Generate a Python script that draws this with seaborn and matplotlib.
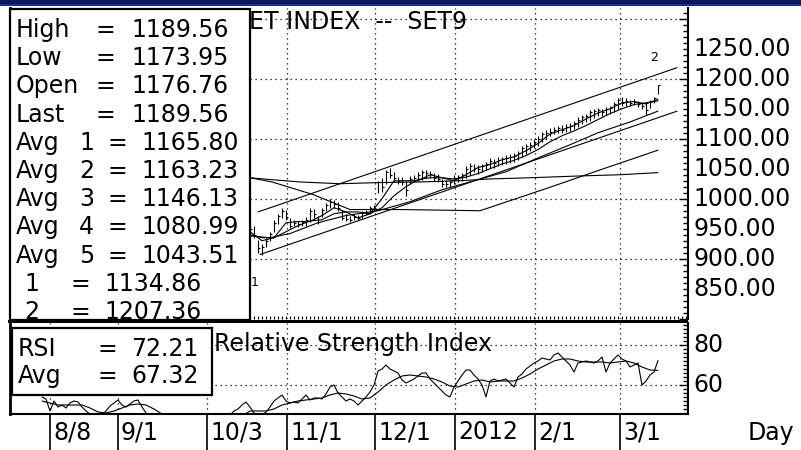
import matplotlib
matplotlib.use("Agg")
import matplotlib.pyplot as plt
import seaborn as sns
from matplotlib.patches import Rectangle
from matplotlib.ticker import MultipleLocator, FixedLocator, NullFormatter

# ---------------- data ----------------
bar_days = list(range(60, 163))
bar_high = [960, 955, 932, 925, 935, 945, 965, 975, 985, 982,
            968, 965, 963, 965, 970, 985, 983, 972, 985, 993,
            1000, 998, 995, 982, 975, 972, 975, 973, 980, 982,
            988, 990, 1030, 1035, 1048, 1052, 1045, 1037, 1037, 1030,
            1038, 1040, 1045, 1048, 1048, 1047, 1043, 1042, 1033, 1032,
            1032, 1040, 1040, 1043, 1055, 1060, 1058, 1056, 1058, 1062,
            1068, 1066, 1070, 1070, 1073, 1075, 1076, 1080, 1088, 1092,
            1095, 1100, 1105, 1112, 1115, 1118, 1120, 1122, 1123, 1125,
            1126, 1130, 1136, 1140, 1142, 1148, 1150, 1152, 1150, 1153,
            1155, 1162, 1168, 1170, 1168, 1165, 1166, 1163, 1160, 1162,
            1165, 1170, 1189.56]
bar_low = [940, 935, 910, 906, 920, 930, 945, 958, 968, 965,
           952, 955, 953, 955, 955, 962, 968, 958, 970, 980,
           985, 985, 980, 965, 963, 962, 965, 965, 968, 973,
           975, 980, 1010, 1012, 1025, 1035, 1028, 1025, 1023, 1005,
           1025, 1028, 1030, 1032, 1035, 1035, 1030, 1028, 1020, 1020,
           1020, 1025, 1028, 1030, 1035, 1040, 1045, 1042, 1045, 1048,
           1052, 1052, 1055, 1057, 1058, 1060, 1062, 1065, 1070, 1075,
           1080, 1085, 1088, 1095, 1100, 1105, 1108, 1110, 1110, 1112,
           1113, 1116, 1120, 1125, 1128, 1130, 1135, 1138, 1138, 1140,
           1142, 1145, 1150, 1155, 1155, 1155, 1156, 1153, 1150, 1140,
           1152, 1160, 1173.95]
bar_close = [950, 940, 918, 920, 930, 942, 960, 972, 980, 970,
             955, 960, 958, 962, 965, 980, 975, 962, 982, 990,
             995, 992, 985, 968, 966, 965, 970, 968, 976, 978,
             985, 985, 1028, 1020, 1045, 1040, 1035, 1030, 1028, 1015,
             1033, 1035, 1040, 1045, 1043, 1042, 1035, 1033, 1025, 1025,
             1028, 1035, 1037, 1040, 1050, 1055, 1052, 1050, 1054, 1058,
             1063, 1060, 1065, 1066, 1068, 1070, 1072, 1076, 1085, 1088,
             1090, 1095, 1100, 1108, 1110, 1112, 1115, 1118, 1115, 1120,
             1122, 1126, 1132, 1136, 1138, 1144, 1146, 1148, 1145, 1150,
             1152, 1158, 1165, 1160, 1163, 1160, 1162, 1158, 1155, 1148,
             1162, 1168, 1189.56]

avg1_days = [58, 60, 63, 66, 69, 72, 75, 78, 81, 84, 87, 90, 93, 96, 99, 102, 105,
             108, 111, 114, 117, 120, 123, 126, 129, 132, 135, 138, 141, 144,
             147, 150, 153, 156, 159, 162]
avg1_vals = [950, 945, 930, 935, 960, 962, 962, 972, 985, 978, 968, 975, 1000, 1030,
             1030, 1030, 1040, 1035, 1030, 1040, 1052, 1057, 1065, 1070, 1080,
             1092, 1108, 1115, 1122, 1133, 1143, 1150, 1160, 1162, 1158, 1165.80]
avg2_days = [58, 60, 63, 66, 69, 72, 75, 78, 81, 84, 87, 90, 93, 96, 99, 102, 105,
             108, 111, 114, 117, 120, 123, 126, 129, 132, 135, 138, 141, 144,
             147, 150, 153, 156, 159, 162]
avg2_vals = [945, 940, 935, 935, 945, 955, 963, 965, 975, 978, 978, 975, 985, 1005,
             1020, 1032, 1035, 1035, 1033, 1036, 1042, 1050, 1058, 1064, 1072,
             1082, 1095, 1105, 1113, 1122, 1132, 1142, 1150, 1157, 1160, 1163.23]
avg3_days = [58, 60, 65, 70, 77, 84, 92, 100, 108, 116, 124, 132, 140, 147, 155, 162]
avg3_vals = [940, 938, 935, 942, 960, 972, 980, 995, 1015, 1030, 1045, 1068, 1090,
             1110, 1128, 1146.13]
avg4_days = [58, 60, 65.5, 75.75, 85, 97.5, 117.5, 134.5, 147.5, 162]
avg4_vals = [1036, 1035, 1028, 1007, 982, 982, 980, 1018, 1048, 1080.99]
avg5_days = [58, 60, 65, 72.5, 82.5, 92.5, 102.5, 112.5, 120, 130, 142.5, 152.5, 162]
avg5_vals = [1036, 1035, 1032, 1028, 1025, 1027, 1028, 1030, 1033, 1035, 1038, 1040,
             1043.51]

chan1_days = [62.5, 166.75]
chan1_vals = [907, 1146]
chan2_days = [62, 166.75]
chan2_vals = [978, 1218.5]

rsi_days = list(range(8, 163))
rsi_vals = [54, 53, 47, 52, 49, 50, 48.5, 51, 52, 51.5,
            49, 47, 45.5, 44, 43, 45, 47, 49.5, 51, 52.5,
            50, 49, 50.5, 52, 52.5, 49, 46, 44, 42, 40,
            38, 36, 35, 37, 39, 40, 38, 36, 34, 33,
            35, 38, 40, 41, 43, 44,
            44, 45, 47, 48, 50, 51.5, 49, 46, 44, 45,
            46.5, 49, 52, 53.5, 55, 52, 51, 51.5, 51, 53,
            55, 52.5, 53.5, 53.5, 53, 55.5, 59, 60, 56, 54,
            52, 53, 52, 50, 52, 54, 56.5, 60, 67, 68,
            70, 68, 67, 66, 62.5, 61, 62, 63, 64.5, 66,
            66, 63, 61, 59, 57, 55, 54, 59, 62, 65,
            67.5, 67.5, 65, 63, 60, 54, 62, 63, 62, 62.5,
            63, 61, 59, 64, 65.5, 68, 69.5, 71, 72, 73.5,
            73, 72.5, 75, 76, 74, 72, 70, 66.5, 71, 71.5,
            72, 71.5, 71, 72, 74, 66.5, 71, 73, 75, 73,
            72, 69, 70, 71, 60, 62, 65, 66.5, 72.21]
rsi_avg_days = list(range(8, 163, 2))
rsi_avg_vals = [52, 51, 50, 50, 50, 50, 48.5, 46.5, 46, 47, 48.5, 50, 50.5, 50, 48,
                45.5, 43, 41, 39.5, 38, 37, 37, 38, 40,
                42, 44.5, 47, 47, 47, 48, 50, 51, 52, 52.5, 53, 53.5, 55, 56, 55.5,
                54.5, 53, 53.5, 56.5, 60, 62.5, 64.5, 65, 64.5, 64, 63, 61.5, 59.5,
                59, 60.5, 62, 62.5, 61.5, 62, 62, 62, 63.5, 65.5, 68, 70, 72, 73, 73,
                72, 71.5, 71.5, 71.5, 71, 71.5, 72, 71, 69, 67.5, 67.32]

date_pos = [10, 27, 49.25, 69.25, 91.25, 111.25, 131.25, 152.5]
date_labels = ["8/8", "9/1", "10/3", "11/1", "12/1", "2012", "2/1", "3/1"]
price_labels = [1250, 1200, 1150, 1100, 1050, 1000, 950, 900, 850]
rsi_labels = [80, 60]

info_names = ["High", "Low", "Open", "Last", "Avg", "Avg", "Avg", "Avg", "Avg", "", ""]
info_nums = ["", "", "", "", "1", "2", "3", "4", "5", "1", "2"]
info_values = ["1189.56", "1173.95", "1176.76", "1189.56", "1165.80", "1163.23",
               "1146.13", "1080.99", "1043.51", "1134.86", "1207.36"]
rsi_names = ["RSI", "Avg"]
rsi_values = ["72.21", "67.32"]

# ---------------- style ----------------
sns.set_style("white")
plt.rcParams["font.family"] = ["DejaVu Sans"]
plt.rcParams["text.color"] = "black"
W, H = 801, 450
fig = plt.figure(figsize=(W / 100, H / 100), dpi=100)
fig.patch.set_facecolor("white")


def fr(x, y):
    return x / W, 1 - y / H


def rect(x0, y0, x1, y1, **kw):
    r = Rectangle((x0 / W, 1 - y1 / H), (x1 - x0) / W, (y1 - y0) / H,
                  transform=fig.transFigure, **kw)
    fig.patches.append(r)
    return r


FS = 17
LW = 0.8
GRID = dict(color="black", linestyle=(0, (1, 3)), linewidth=0.9)

# main panel: x 10..688, y 8..319
ax = fig.add_axes([10 / W, 1 - 319 / H, 678 / W, 311 / H])
ax.set_xlim(0, 169.5)
ax.set_ylim(799.5, 1318)
ax.set_facecolor("white")

ax.vlines(bar_days, bar_low, bar_high, color="black", lw=LW, zorder=3)
ax.hlines(bar_close, [d for d in bar_days], [d + 0.6 for d in bar_days],
          color="black", lw=LW, zorder=3)
for dd, vv in [(avg1_days, avg1_vals), (avg2_days, avg2_vals), (avg3_days, avg3_vals),
               (avg4_days, avg4_vals), (avg5_days, avg5_vals),
               (chan1_days, chan1_vals), (chan2_days, chan2_vals)]:
    sns.lineplot(x=dd, y=vv, ax=ax, color="black", lw=LW, zorder=3)
ax.text(61.25, 860, "1", fontsize=9, ha="center", va="center")
ax.text(161, 1236, "2", fontsize=9, ha="center", va="center")

ax.xaxis.set_major_locator(FixedLocator(date_pos))
ax.xaxis.set_minor_locator(MultipleLocator(1))
ax.yaxis.set_major_locator(MultipleLocator(100))
ax.yaxis.set_minor_locator(MultipleLocator(10))
ax.xaxis.set_major_formatter(NullFormatter())
ax.yaxis.set_major_formatter(NullFormatter())
ax.yaxis.tick_right()
ax.tick_params(axis="y", which="major", direction="in", length=6.5, width=1, color="black", right=True, left=False)
ax.tick_params(axis="y", which="minor", direction="in", length=3.5, width=1, color="black", right=True, left=False)
ax.tick_params(axis="x", which="major", length=0)
ax.tick_params(axis="x", which="minor", direction="in", length=2.2, width=0.8, color="black", bottom=True)
ax.grid(True, which="major", **GRID)
ax.set_axisbelow(True)
for s in ["top", "bottom"]:
    ax.spines[s].set_visible(False)
ax.spines["right"].set_color("black")
ax.spines["right"].set_linewidth(1.5)
ax.spines["left"].set_color("black")
ax.spines["left"].set_linewidth(2)
ax.set_xlabel("")
ax.set_ylabel("")
tr = ax.get_yaxis_transform()
for v in price_labels:
    ax.text(1.0075, v, f"{v:.2f}", transform=tr, fontsize=FS, ha="left", va="center",
            clip_on=False)

# RSI panel: x 10..688, y 323..414
ax2 = fig.add_axes([10 / W, 1 - 414 / H, 678 / W, 91 / H])
ax2.set_xlim(0, 169.5)
ax2.set_ylim(45.5, 91)
sns.lineplot(x=rsi_days, y=rsi_vals, ax=ax2, color="black", lw=LW)
sns.lineplot(x=rsi_avg_days, y=rsi_avg_vals, ax=ax2, color="black", lw=LW)
ax2.xaxis.set_major_locator(FixedLocator(date_pos))
ax2.yaxis.set_major_locator(FixedLocator([60, 80]))
ax2.yaxis.set_minor_locator(MultipleLocator(2))
ax2.xaxis.set_major_formatter(NullFormatter())
ax2.yaxis.set_major_formatter(NullFormatter())
ax2.yaxis.tick_right()
ax2.tick_params(axis="y", which="major", direction="in", length=6.5, width=1, color="black", right=True, left=False)
ax2.tick_params(axis="y", which="minor", direction="in", length=3.5, width=1, color="black", right=True, left=False)
ax2.tick_params(axis="x", which="both", length=0)
ax2.grid(True, which="major", **GRID)
ax2.set_axisbelow(True)
ax2.spines["top"].set_visible(False)
for s in ["right", "bottom", "left"]:
    ax2.spines[s].set_color("black")
    ax2.spines[s].set_linewidth(1.5)
ax2.spines["left"].set_linewidth(2)
ax2.set_xlabel("")
ax2.set_ylabel("")
tr2 = ax2.get_yaxis_transform()
for v in rsi_labels:
    ax2.text(1.0075, v, f"{v}", transform=tr2, fontsize=FS, ha="left", va="center", clip_on=False)
ax2.text(51.0, 80.5, "Relative Strength Index", fontsize=FS, ha="left", va="center")

# date row
trx = ax2.get_xaxis_transform()
for p, lab in zip(date_pos, date_labels):
    ax2.plot([p, p], [0, -0.42], transform=trx, color="black", lw=1.2, clip_on=False)
    ax2.text(p + 0.75, -0.2, lab, transform=trx, fontsize=FS, ha="left", va="center",
             clip_on=False)
fig.text(*fr(748, 433), "Day", fontsize=FS, ha="left", va="center")

# title behind the info box
fig.text(*fr(234, 22), "SET INDEX  --  SET9", fontsize=FS, ha="left", va="center", zorder=2)

# separators / frame
rect(8, 319.5, 688, 323, facecolor="black", edgecolor="none", zorder=7)
rect(0, 0, W, 6, facecolor="#0c1560", edgecolor="none", zorder=8)
rect(0, 4, W, 6, facecolor="#1b2f8c", edgecolor="none", zorder=8)

# info box
rect(10, 9, 250, 320, facecolor="white", edgecolor="black", linewidth=1.6, zorder=5)
for i in range(len(info_values)):
    y = 30 + 28.2 * i
    if i < 4:
        fig.text(*fr(16, y), info_names[i], fontsize=FS, ha="left", va="center", zorder=6)
        fig.text(*fr(105, y), "=", fontsize=FS, ha="center", va="center", zorder=6)
        fig.text(*fr(131, y), info_values[i], fontsize=FS, ha="left", va="center", zorder=6)
    elif i < 9:
        fig.text(*fr(16, y), info_names[i], fontsize=FS, ha="left", va="center", zorder=6)
        fig.text(*fr(79, y), info_nums[i], fontsize=FS, ha="left", va="center", zorder=6)
        fig.text(*fr(117, y), "=", fontsize=FS, ha="center", va="center", zorder=6)
        fig.text(*fr(141, y), info_values[i], fontsize=FS, ha="left", va="center", zorder=6)
    else:
        fig.text(*fr(24, y), info_nums[i], fontsize=FS, ha="left", va="center", zorder=6)
        fig.text(*fr(80, y), "=", fontsize=FS, ha="center", va="center", zorder=6)
        fig.text(*fr(104, y), info_values[i], fontsize=FS, ha="left", va="center", zorder=6)

# RSI box
rect(12, 328, 212, 395, facecolor="white", edgecolor="black", linewidth=1.6, zorder=5)
for i in range(2):
    y = 349 + 27 * i
    fig.text(*fr(18, y), rsi_names[i], fontsize=FS, ha="left", va="center", zorder=6)
    fig.text(*fr(107, y), "=", fontsize=FS, ha="center", va="center", zorder=6)
    fig.text(*fr(131, y), rsi_values[i], fontsize=FS, ha="left", va="center", zorder=6)

fig.savefig("out.png", dpi=100, facecolor="white")
